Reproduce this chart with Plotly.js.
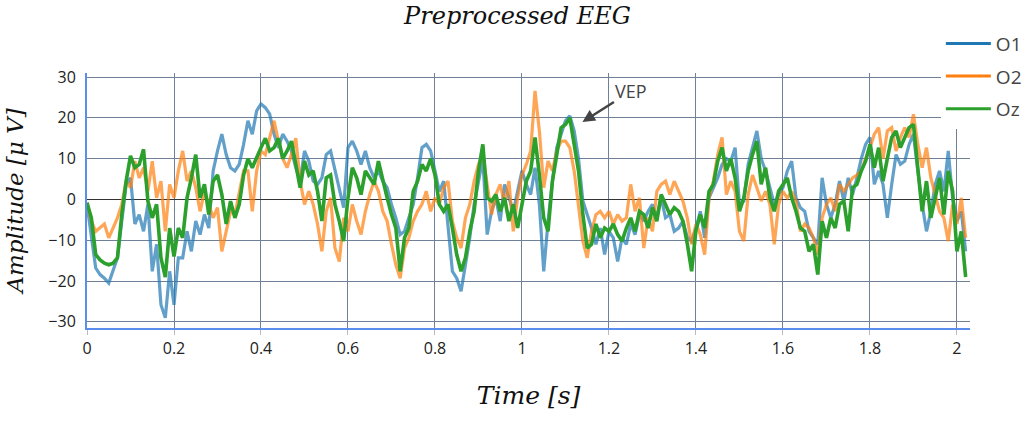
<!DOCTYPE html>
<html>
<head>
<meta charset="utf-8">
<script src="https://cdn.plot.ly/plotly-3.0.1.min.js"></script>
<style>html,body{margin:0;padding:0;background:#fff;}#chart{width:1035px;height:425px;}</style>
</head>
<body>
<div id="chart"></div>
<script>
var channelNames = ["O1", "O2", "Oz"];
var sampleStep = 0.01;

var O1 = [
 -1.2, -9.4, -16.8, -18.4, -19.3, -20.5, -17.6, -14.3, -5.3, 3.7,
 5.3, -6, -3.7, -7.8, -1.2, -17.6, -11, -25.8, -29, -17.6,
 -25.8, -14.3, -14.3, -7.8, -12.7, -5.3, -8.6, -3.7, -7, 7,
 11.9, 16, 11, 7.8, 7, 8.6, 13.5, 19.3, 16, 21.7,
 23.4, 22.5, 20.9, 16, 12.7, 16, 14.3, 11.9, 7.8, 4.5,
 11.9, 9.4, 4.5, 3.7, 5.3, 11, 11.9, 7, 2, -2,
 12.7, 14.3, 11.9, 8.6, 11.9, 7.8, 5.3, 7, 4.5, 2.9,
 -1.2, -4.5, -8.6, -7.8, -4.5, -1.2, 5.3, 12.7, 13.5, 11.9,
 7, 2, 4.5, -6, -17.6, -19.3, -22.5, -16, -9.4, -1.2,
 4.5, 10, -8.6, -2.9, 0.4, -5.3, 3.7, 0.4, -2.9, 2,
 7, 3.7, 1.2, 7.8, -1.2, -17.6, -5.3, 4.5, 12.7, 16,
 19.3, 20.5, 16.8, 10, -0.4, -3.7, -7, -11, -7, -13.5,
 -7.8, -9.4, -15.2, -9.4, -11, -6, -8.6, -3.7, -5.3, -2.9,
 -1.2, -4.5, 0.4, -4.5, -3.7, -7.8, -7, -5.3, -9.2, -10.2,
 -7, -2.9, -9.4, 0.4, 2.9, 5.3, 8.6, 10, 9.4, 12.7,
 -1.2, -0.4, 8.6, 12.7, 16.8, 10, 7, 2.9, -1.2, 1.2,
 2.9, 7, 9.4, 0.4, -2, -2.9, -7.8, -9.4, -11, 5.3,
 -1.2, -4.5, -1.2, 4.5, -0.4, 5.3, 1.2, 5.3, 10, 13.5,
 15.2, 3.7, 7, 3.7, -4.5, 3.7, 11, 8.6, 9.4, 13.5,
 16, 7, -1.2, -7.8, -2.9, 3.7, 7, 2, 11.9, 0.4,
 -5.3, -2.9, -12.7
];

var O2 = [
 -0.8, -5.3, -7.8, -7, -6, -9.4, -7, -4.5, -1.2, 4.5,
 2.9, 9.4, 5.3, 7.8, 2, 9.4, 0.4, 4.5, -7.8, 3.7,
 0.4, 7, 11.9, 4.5, 7, 2.9, -2.9, 2, -1.2, -4.5,
 -2, -12.7, -7.8, -2.9, -3.7, 2, 7, 7, -2.9, 7,
 11.9, 11, 15, 19.3, 14.3, 10, 7.8, 11, 15, 4.5,
 -1.2, 2, -1.2, -6, -12.7, -2.9, 0.4, -11.9, -15.2, -4.5,
 -7.8, -1.2, -5.3, -8.6, -2.9, 1.2, 4.5, 2, -2.9, -5.3,
 -11, -16, -19.3, -11.9, -9.4, -5.3, -2.9, -1.2, 2, -2.9,
 0.4, -1.2, 2.9, 4.5, -5.3, -9.4, -11.9, -4.5, -1.2, 4.5,
 8.6, 11, 3.7, -3.7, 1.2, 3.7, -1.2, 4.5, -7.8, 0.4,
 6, 8.6, 11.9, 26.6, 16.8, 2.9, 9.4, 7, 11.9, 14.3,
 14.3, 12.7, 7, -1.2, -10.2, -14.3, -7.8, -3.7, -2.9, -4.5,
 -2.9, -6, -3.7, -5.3, -4.5, 3.7, -2.9, 0.4, -11.9, -4.5,
 -7.8, 2, 3.7, 4.5, 1.2, 4.5, 2, -0.4, -4.5, -11,
 -6, -8.6, -13.5, 0.4, 4.5, 11, 15.2, 1.2, 4.5, 2,
 -7.8, -10.2, 1.2, 6, 2.9, -0.4, 2, -1.2, -11, -1.2,
 2, 0.4, 2, -0.4, -7.8, -6, -7, -9.4, -13.5, -4.5,
 -1.2, 0.4, -2.9, 3.7, 2, 3.7, 5.3, 6, 7, 10,
 12.7, 16, 17.6, 10, 16.8, 17.6, 11.9, 15.2, 17.6, 15.2,
 20.9, 13.5, 7.8, 12.7, 5.3, 1.2, -2.9, -4.5, -10.2, -1.2,
 -6, 0.4, -9.4
];

var Oz = [
 -0.8, -4.5, -13.5, -14.8, -15.6, -16, -15.6, -14.3, -3.7, 4.5,
 10.7, 7.8, 8.6, 12.3, -0.4, -4.5, -1.2, -14.3, -19, -7,
 -14, -7, -9.4, 0.4, 5.3, 11, 0.4, 3.7, -3.7, 4.5,
 6, 1.2, -6, -0.4, -4.5, -1.2, 6, 10, 7.8, 10,
 12.7, 15, 11.9, 12.7, 15, 10, 11.9, 14.3, 8.6, 2.9,
 9.4, 6, 7, 2, -5.3, 5.3, 6, -1.2, -5.3, -10.2,
 0.4, 7.8, 5.3, 1.2, 7, 5.3, 3.7, 9.4, 4.5, 0.4,
 -3.7, -7, -17.6, -9.4, -7, 2, 4.5, 8.6, 7, 10,
 6, -1.2, -2.9, -1.2, -7, -13.5, -17.6, -14.3, -7.8, -2.9,
 7, 13.5, 0.4, -0.4, 1.2, -2.9, 0.4, -5.3, -1.2, -7,
 -1.2, 4.5, 7, 15.2, 6, -4.5, -7.8, 4.5, 11, 17.6,
 18.4, 20, 13.5, 7, -3.7, -11.9, -11, -6, -9.4, -7,
 -7.8, -6, -8.6, -10.2, -7, -4.5, -7.8, -2.9, -3.7, -7,
 -2, -5.3, 1.2, -1.2, -3.7, -2, -2.9, -5.3, -10.8, -17.6,
 -7.5, -3.7, -7, 2, 3.7, 9.4, 12.7, 7, 10, 5.3,
 -2.9, 0.4, 7, 11, 14.3, 3.7, 7.8, 0.4, -2.9, 2,
 3.7, 5.3, 0.4, -2.9, -7, -7.8, -12.7, -11, -18.4, -5.3,
 -9.4, -4.5, -7, -1.2, -0.4, -7.8, 2.9, 3.7, 7, 9.4,
 13.5, 7.8, 12.7, 4.5, 10, 15.2, 16.8, 12.7, 15.2, 17.6,
 18.4, 7.8, -2.9, 4.5, -4.5, 0.4, 5.3, -3.7, 7, 2,
 -12.7, -7.8, -19
];

var time = O1.map(function (_, i) { return Math.round(i * sampleStep * 1000) / 1000; });

var colors = ["#1f77b4", "#ff7f0e", "#2ca02c"];
var opac = [0.7, 0.7, 1.0];
var widths = [3.2, 3.2, 3.6];
var series = [O1, O2, Oz];

var traces = [];
series.forEach(function (s, k) {
  traces.push({
    type: "scatter", mode: "lines", x: time, y: s, name: channelNames[k],
    opacity: opac[k], showlegend: false, hoverinfo: "skip",
    line: {color: colors[k], width: widths[k]}
  });
});
series.forEach(function (s, k) {
  traces.push({
    type: "scatter", mode: "lines", x: [null], y: [null], name: channelNames[k],
    legendgroup: channelNames[k],
    line: {color: colors[k], width: 3}
  });
});

var gridCol = "#6f8199";
var axisBlue = "#5a8ded";

var layout = {
  width: 1035, height: 425,
  paper_bgcolor: "#fff", plot_bgcolor: "#fff",
  margin: {l: 87, r: 65, t: 73, b: 97, autoexpand: false},
  font: {family: '"Open Sans", sans-serif', color: "#444"},
  title: {
    text: "Preprocessed EEG",
    font: {family: '"DejaVu Serif", serif', style: "italic", size: 24, color: "#111"},
    x: 0.5, xanchor: "center", y: 0.963, yanchor: "middle"
  },
  xaxis: {
    range: [0, 2.03], dtick: 0.2, tick0: 0,
    showgrid: true, gridcolor: gridCol, gridwidth: 1,
    zeroline: false,
    showline: true, linecolor: axisBlue, linewidth: 2,
    ticks: "outside", ticklen: 5, tickcolor: "#bbb", tickwidth: 1,
    tickfont: {size: 16, color: "#222"},
    title: {text: "Time [s]", standoff: 28,
      font: {family: '"DejaVu Serif", serif', style: "italic", size: 25, color: "#111"}}
  },
  yaxis: {
    range: [-31.5, 31], dtick: 10, tick0: 0,
    showgrid: true, gridcolor: gridCol, gridwidth: 1,
    zeroline: true, zerolinecolor: "#333", zerolinewidth: 1,
    showline: true, linecolor: axisBlue, linewidth: 2,
    ticks: "", ticklabelstandoff: 6,
    tickfont: {size: 16, color: "#222"},
    title: {text: "Amplitude [μ V]", standoff: 18,
      font: {family: '"DejaVu Serif", serif', style: "italic", size: 23, color: "#111"}}
  },
  legend: {
    x: 0.967, xanchor: "left", y: 1.19, yanchor: "top",
    bgcolor: "#fff", borderwidth: 0,
    font: {size: 19, color: "#444"},
    itemwidth: 45, tracegroupgap: 5
  },
  annotations: [{
    x: 1.139, y: 19, xref: "x", yref: "y",
    text: "VEP", showarrow: true,
    ax: 49, ay: -31,
    arrowhead: 2, arrowsize: 1, arrowwidth: 2.5, arrowcolor: "#444",
    font: {size: 18, color: "#444"}
  }]
};

Plotly.newPlot("chart", traces, layout, {displayModeBar: false, staticPlot: true});
</script>
</body>
</html>
